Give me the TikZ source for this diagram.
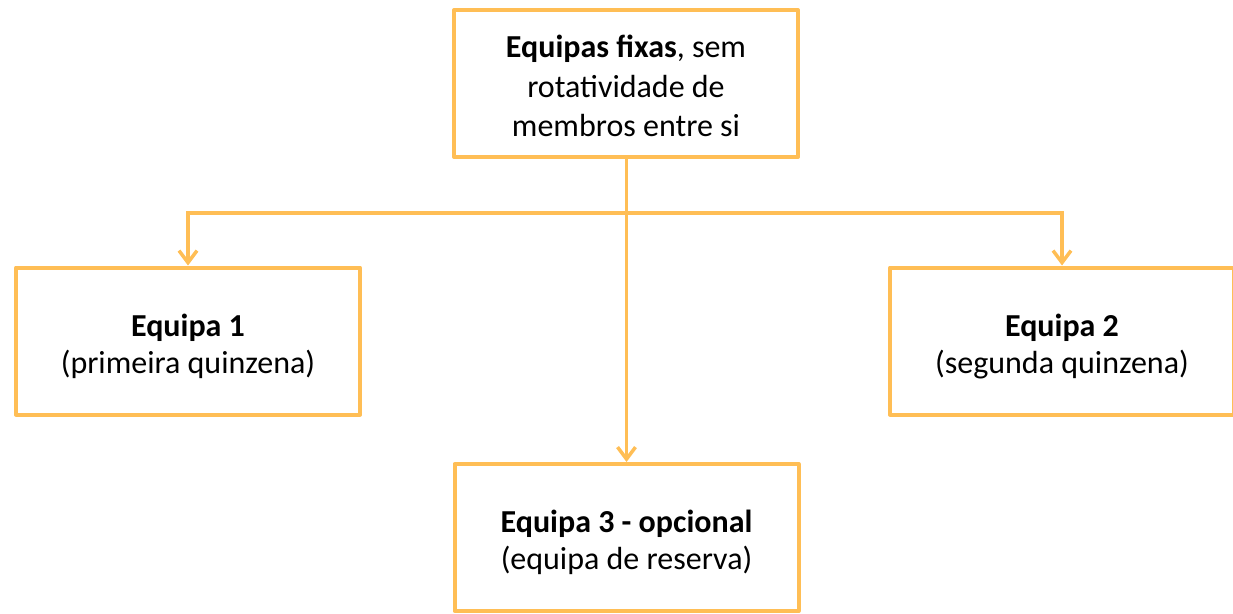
\documentclass[tikz,border=0pt]{standalone}
\usepackage{fontspec}
\setmainfont{Carlito}
\usetikzlibrary{arrows.meta}
\definecolor{boxor}{RGB}{255,190,85}
\newcommand{\lowstrut}{\rule{0pt}{33pt}}
\tikzset{
  teambox/.style={draw=boxor, line width=4pt, line join=round, fill=white,
    minimum width=344pt, minimum height=147pt, inner sep=0pt, align=center,
    font=\fontsize{32}{37}\selectfont, text=black},
  link/.style={draw=boxor, line width=3.5pt, -{Straight Barb[length=12pt,width=18pt,line width=3.5pt]}},
  plainlink/.style={draw=boxor, line width=3.5pt}
}
\begin{document}
\begin{tikzpicture}[x=1pt,y=-1pt]
\clip (0,0) rectangle (1233,613);
\node[teambox, font=\fontsize{32}{39.5}\selectfont] (top) at (626,83.5) {\rule{0pt}{28pt}\textbf{Equipas fixas}, sem\\rotatividade de\\membros entre si};
\node[teambox] (left) at (188,341) {\lowstrut\textbf{Equipa 1}\\(primeira quinzena)};
\node[teambox] (right) at (1062,341) {\lowstrut\textbf{Equipa 2}\\(segunda quinzena)};
\node[teambox] (bot) at (626.5,537.5) {\lowstrut\textbf{Equipa 3 - opcional}\\(equipa de reserva)};
\coordinate (hub) at (626.5,213);
\draw[plainlink] (top.south -| hub) -- (hub);
\draw[link] (hub) -| (left.north);
\draw[link] (hub) -| (right.north);
\draw[link] (top.south -| hub) -- (bot.north);
\end{tikzpicture}
\end{document}
